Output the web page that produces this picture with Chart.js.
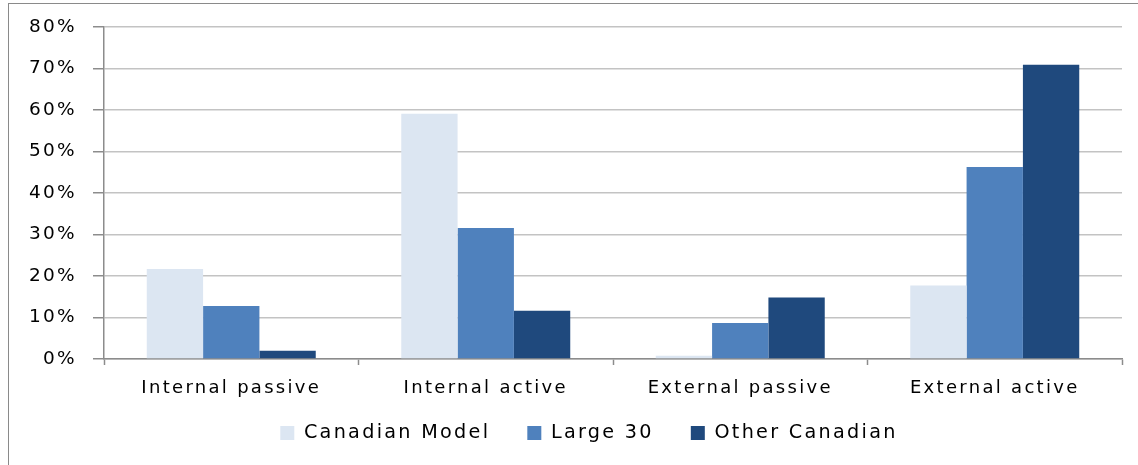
<!DOCTYPE html>
<html>
<head>
<meta charset="utf-8">
<script src="https://cdn.jsdelivr.net/npm/chart.js@4/dist/chart.umd.min.js"></script>
<style>
  html, body { margin: 0; padding: 0; background: #fff; }
  #wrap { position: relative; width: 1138px; height: 465px; }
</style>
</head>
<body>
<div id="wrap"><canvas id="chart" width="1138" height="465"></canvas></div>
<script>
// Share of assets by management style
const categories = ['Internal passive', 'Internal active', 'External passive', 'External active'];
const canadianModel = [21.7, 59.1, 0.8, 17.7];
const large30 = [12.8, 31.6, 8.7, 46.3];
const otherCanadian = [2.0, 11.6, 14.8, 70.9];
const seriesNames = ['Canadian Model', 'Large 30', 'Other Canadian'];
const seriesColors = ['#dce6f2', '#4f81bd', '#1f497d'];
const yTicks = [0, 10, 20, 30, 40, 50, 60, 70, 80];

const FONT = 'DejaVu Sans';
const LETTER_SPACING = '2.3px';
const LEGEND_FONT = 19.2;
const LEGEND_PAD = 37;
const LEGEND_CENTER_Y = 433;
const LEGEND_SHIFT_X = 28;

// spaced-out text, white background and outer frame
const framePlugin = {
  id: 'frame',
  beforeUpdate(chart) { chart.ctx.letterSpacing = LETTER_SPACING; },
  afterLayout(chart) {
    // place the legend row just under the category labels
    const lg = chart.legend;
    if (lg) {
      const h = lg.bottom - lg.top;
      lg.top = LEGEND_CENTER_Y - LEGEND_PAD - LEGEND_FONT / 2;
      lg.bottom = lg.top + h;
      lg.left += LEGEND_SHIFT_X;
      lg.right += LEGEND_SHIFT_X;
    }
  },
  beforeDraw(chart) {
    const ctx = chart.ctx;
    ctx.letterSpacing = LETTER_SPACING;
    ctx.save();
    ctx.fillStyle = '#ffffff';
    ctx.fillRect(0, 0, chart.width, chart.height);
    ctx.strokeStyle = '#8a8a8a';
    ctx.lineWidth = 1;
    ctx.strokeRect(8.5, 3.5, chart.width + 10, chart.height + 10);
    ctx.restore();
  }
};

const canvas = document.getElementById('chart');
const series = [canadianModel, large30, otherCanadian];

new Chart(canvas, {
  type: 'bar',
  data: {
    labels: categories,
    datasets: series.map((vals, i) => ({
      label: seriesNames[i],
      data: vals,
      backgroundColor: seriesColors[i],
      borderWidth: 0,
      barPercentage: 1.0,
      categoryPercentage: 0.664
    }))
  },
  options: {
    responsive: false,
    animation: false,
    devicePixelRatio: 1,
    layout: { padding: { left: 0, right: 16, top: 26, bottom: 0 } },
    plugins: {
      legend: {
        position: 'bottom',
        maxHeight: 56,
        labels: {
          boxWidth: 14,
          boxHeight: 14,
          padding: LEGEND_PAD,
          color: '#000',
          font: { family: FONT, size: LEGEND_FONT }
        }
      },
      tooltip: { enabled: false }
    },
    scales: {
      x: {
        afterFit(scale) { scale.height = 50; },
        grid: {
          offset: true,
          drawOnChartArea: false,
          drawTicks: true,
          tickLength: 6,
          tickColor: '#8c8c8c',
          tickWidth: 1.5
        },
        border: { color: '#8c8c8c', width: 1.5 },
        ticks: {
          color: '#000',
          padding: 13,
          font: { family: FONT, size: 18 }
        }
      },
      y: {
        min: 0,
        max: 80,
        afterFit(scale) { scale.width = 104; },
        afterBuildTicks(scale) { scale.ticks = yTicks.map(v => ({ value: v })); },
        grid: {
          color: '#c3c3c3',
          lineWidth: 1.5,
          drawTicks: true,
          tickLength: 11,
          tickColor: '#8c8c8c',
          tickWidth: 1.5
        },
        border: { color: '#8c8c8c', width: 1.5 },
        ticks: {
          color: '#000',
          padding: 16,
          font: { family: FONT, size: 18.5 },
          callback: v => v + '%'
        }
      }
    }
  },
  plugins: [framePlugin]
});
</script>
</body>
</html>
